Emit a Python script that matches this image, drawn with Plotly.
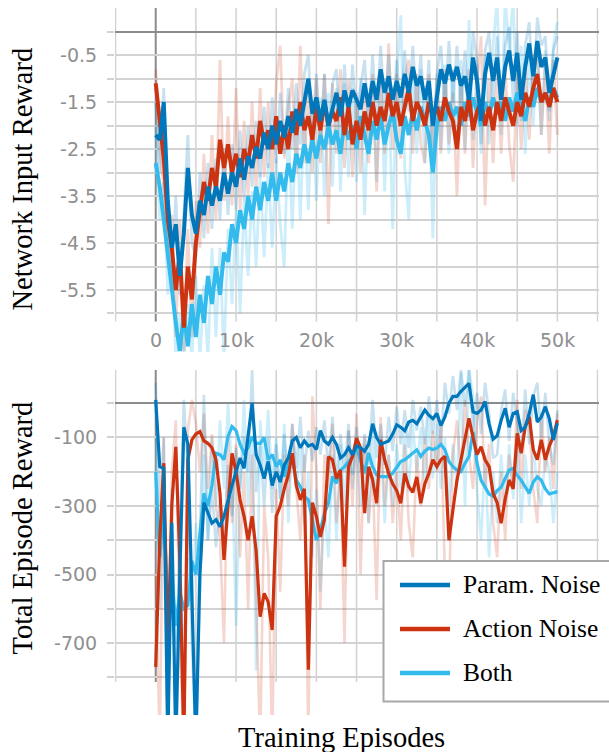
import plotly.graph_objects as go

# ---------------- data ----------------
episodes = list(range(0, 50001, 500))  # sampling positions (training episodes)

# Top panel: Network Input Reward (smoothed + raw)
top_param = [-2.2, -2.3, -1.5, -3.6, -4.6, -4.1, -5.2, -4.3, -2.9, -3.9,
             -4.3, -3.6, -3.9, -3.3, -3.7, -3.3, -3.6, -3.0, -3.45, -3.0,
             -3.3, -2.7, -3.15, -2.65, -2.9, -2.45, -2.7, -2.15, -2.5, -2.0,
             -2.4, -1.9, -2.25, -1.8, -2.15, -1.65, -2.0, -1.45, -1.0, -1.75,
             -1.4, -1.9, -1.45, -2.0, -1.6, -1.3, -1.8, -1.25, -1.6, -1.25,
             -1.45, -1.65, -1.1, -1.6, -1.05, -1.45, -0.8, -1.3, -0.95, -1.45,
             -1.05, -1.4, -0.9, -1.3, -0.75, -1.15, -0.95, -1.45, -1.05, -2.0,
             -1.4, -0.8, -1.1, -0.7, -1.05, -0.75, -1.15, -0.95, -1.45, -0.55,
             -1.05, -1.9, -0.9, -0.45, -1.05, -0.55, -1.45, -0.75, -0.4, -1.05,
             -0.45, -1.45, -0.75, -0.25, -0.95, -0.2, -0.75, -0.55, -1.3, -0.9,
             -0.55]
top_param_raw = [-1.5, -3.0, -1.2, -4.2, -5.2, -3.5, -5.6, -3.8, -2.2, -4.5,
                 -4.8, -3.0, -4.4, -2.8, -4.2, -2.7, -4.0, -2.5, -3.9, -2.4,
                 -3.8, -2.1, -3.6, -2.0, -3.3, -1.9, -3.1, -1.6, -2.9, -1.4,
                 -2.8, -1.3, -2.6, -1.2, -2.5, -1.1, -2.4, -0.9, -0.5, -2.2,
                 -0.9, -2.3, -0.9, -2.4, -1.1, -0.8, -2.2, -0.7, -2.0, -0.7,
                 -1.9, -1.2, -0.6, -2.0, -0.5, -1.9, -0.3, -1.7, -0.5, -1.9,
                 -0.6, -1.8, -0.4, -1.7, -0.3, -1.6, -0.5, -1.9, -0.6, -2.6,
                 -0.9, -0.3, -1.6, -0.2, -1.5, -0.3, -1.6, -0.4, -1.9, 0.0,
                 -0.6, -2.4, -0.4, 0.0, -1.5, -0.1, -1.9, -0.3, 0.1, -1.5,
                 0.0, -1.9, -0.3, 0.2, -1.4, 0.3, -0.3, -0.1, -1.7, -0.4,
                 -0.1]
top_action = [-1.1, -1.9, -2.7, -4.0, -4.6, -5.5, -4.7, -6.3, -5.0, -5.7,
              -4.5, -3.8, -3.2, -3.6, -2.9, -3.3, -2.3, -2.9, -2.4, -3.0,
              -2.6, -3.1, -2.5, -2.8, -2.2, -2.7, -1.9, -2.4, -2.1, -2.5,
              -1.8, -2.6, -2.0, -2.5, -1.7, -2.2, -1.5, -2.1, -1.8, -2.3,
              -1.6, -2.1, -1.5, -2.0, -1.7, -1.9, -1.4, -2.2, -1.6, -2.4,
              -1.9, -2.3, -1.7, -2.1, -1.5, -2.0, -1.6, -1.9, -1.3, -1.8,
              -1.5, -2.0, -1.6, -1.2, -1.9, -1.5, -1.7, -2.0, -1.5, -1.8,
              -1.6, -1.9, -1.4, -1.7, -1.9, -2.5, -1.6, -1.9, -1.4, -2.1,
              -1.7, -1.5, -2.0, -1.6, -2.1, -1.5, -1.9, -1.4, -1.7, -2.0,
              -1.5, -1.8, -1.3, -1.6, -1.2, -0.9, -1.5, -1.3, -1.6, -1.2,
              -1.5]
top_action_raw = [-0.8, -2.5, -3.3, -4.8, -3.9, -6.5, -4.0, -6.8, -4.2, -6.5,
                  -3.6, -4.6, -2.6, -4.3, -2.2, -4.0, -0.6, -3.6, -1.8, -3.7,
                  -1.2, -3.8, -1.9, -3.5, -1.5, -3.4, -1.2, -3.1, -1.5, -3.2,
                  -1.1, -0.3, -2.7, -1.6, -1.0, -3.0, -0.3, -2.8, -1.2, -3.0,
                  -1.0, -2.8, -0.9, -4.1, -1.1, -2.6, -0.8, -2.9, -1.0, -3.1,
                  -1.3, -3.0, -1.1, -2.8, -0.9, -3.4, -1.0, -2.6, -0.25, -2.5,
                  -0.9, -2.7, -1.0, -0.6, -2.6, -0.9, -2.4, -2.8, -0.9, -2.5,
                  -1.0, -2.6, -0.8, -2.4, -1.3, -3.5, -1.0, -2.6, -0.8, -2.9,
                  -1.1, -0.1, -3.7, -1.0, -2.8, -0.9, -2.6, -0.8, -2.4, -3.2,
                  -0.9, -2.5, -0.7, -2.3, -0.6, -0.3, -2.2, -0.7, -2.6, -0.6,
                  -2.2]
top_both = [-2.8, -3.3, -4.0, -4.8, -5.4, -6.2, -6.8, -6.0, -6.7, -5.8,
            -6.5, -5.6, -6.2, -5.2, -5.8, -5.0, -5.6, -4.7, -4.9, -4.1,
            -4.5, -3.8, -4.2, -3.5, -4.0, -3.3, -3.8, -3.2, -3.6, -3.0,
            -3.6, -3.0, -3.4, -2.8, -3.2, -2.6, -2.9, -2.4, -2.8, -2.3,
            -2.7, -2.2, -2.5, -2.0, -2.4, -2.1, -2.6, -1.9, -2.3, -2.0,
            -2.5, -1.8, -2.2, -2.6, -1.9, -2.3, -1.8, -2.4, -2.0, -1.7,
            -2.3, -2.6, -1.8, -2.2, -1.7, -2.1, -1.6, -1.9, -2.2, -3.0,
            -2.0, -1.6, -1.9, -1.5, -1.8, -1.6, -2.0, -1.5, -1.8, -1.4,
            -1.7, -2.0, -1.5, -1.8, -1.4, -1.7, -1.5, -1.9, -1.4, -1.7,
            -1.3, -1.6, -1.9, -1.4, -1.6, -1.2, -1.5, -1.3, -1.6, -1.2,
            -1.4]
top_both_raw = [-2.0, -4.0, -3.2, -5.6, -4.6, -7.0, -6.0, -7.0, -5.8, -7.0,
                -5.2, -7.0, -5.4, -7.0, -4.6, -6.5, -4.6, -7.0, -4.2, -5.8,
                -3.8, -6.0, -3.6, -5.2, -3.4, -5.0, -3.0, -4.8, -2.8, -4.6,
                -2.7, -4.1, -5.0, -2.0, -4.2, -1.8, -4.0, -1.6, -3.8, -1.5,
                -3.6, -1.4, -3.5, -1.3, -3.3, -1.2, -3.4, -1.1, -3.1, -1.2,
                -3.2, -1.0, -3.9, -1.4, -1.1, -3.2, -0.9, -3.4, -1.2, -4.2,
                -1.0, 0.35, -2.9, -4.0, -1.0, -2.6, -0.8, -2.8, -1.1, -4.4,
                -0.9, -2.5, -0.7, -2.6, -0.8, -2.4, -0.6, -2.5, 0.25, -2.3,
                -0.7, -2.6, -0.5, -2.4, -0.3, 0.7, -2.2, 0.7, -0.4, 0.7,
                -2.0, -0.3, -2.6, -0.5, -2.0, -0.2, -2.2, -0.4, -1.9, -0.3,
                0.2]

# Bottom panel: Total Episode Reward (smoothed + raw)
bot_param = [10, -185, -190, -1000, -350, -1000, -500, -70, -120, -600,
             -1000, -500, -290, -320, -350, -340, -360, -330, -280, -240,
             -200, -160, -190, -90, 0, -150, -180, -220, -170, -240,
             -200, -230, -180, -160, -110, -100, -130, -110, -125, -120,
             -135, -80, -110, -120, -100, -120, -160, -150, -130, -150,
             -125, -130, -140, -120, -60, -100, -120, -115, -110, -90,
             -63, -70, -80, -55, -50, -60, -40, -20, -35, -45,
             -30, -65, -40, 0, 20, 20, 35, 45, 58, -25,
             -30, -20, 5, -60, -105, -95, -50, -15, -70, -30,
             -25, -80, -70, -30, 25, -55, -40, -10, -45, -107,
             -58]
bot_param_raw = [60, -300, -100, -1000, -250, -1000, -400, 10, -200, -700,
                 -1000, -380, 25, -400, -250, -420, -280, -400, -180, -330,
                 -130, -250, -100, -200, 97, -260, -120, -300, -100, -320,
                 -120, -280, -90, -230, -60, -190, -40, -200, -80, -170,
                 -70, -150, -50, -200, -40, -230, -90, -200, -60, -210,
                 -70, -200, -90, -180, 10, -160, -60, -180, -40, -140,
                 -10, -120, -20, -130, 10, -80, -10, -120, 20, -90,
                 10, -120, 60, -30, 80, -20, 100, -10, 100, -80,
                 30, -90, 60, -30, -160, -150, -20, 40, -110, 30,
                 -60, -150, 40, -120, 20, 60, -100, 30, -120, -180,
                 -20]
bot_action = [-770, -400, -175, -730, -300, -127, -457, -1000, -165, -107,
              -90, -83, -110, -117, -130, -165, -263, -457, -300, -146,
              -200, -282, -330, -400, -330, -430, -623, -555, -580, -662,
              -330, -300, -250, -210, -146, -240, -282, -250, -778, -290,
              -330, -390, -340, -156, -165, -220, -195, -477, -185, -155,
              -102, -130, -321, -185, -224, -292, -107, -165, -205, -235,
              -255, -292, -205, -243, -260, -215, -292, -235, -205, -165,
              -185, -165, -155, -400, -311, -225, -165, -107, -44, -100,
              -150, -127, -165, -185, -263, -290, -350, -280, -224, -250,
              -88, -145, -68, -39, -136, -165, -107, -165, -125, -97,
              -49]
bot_action_raw = [-500, -1000, -100, -1000, -200, -50, -700, -1000, -80, 10,
                  -60, -200, -30, -250, -90, -300, -400, -700, -100, -350,
                  -120, -450, -200, -600, -150, -550, -1000, -300, -450, -1000,
                  -250, -550, -150, -300, -60, -250, -400, -150, -1000, 20,
                  -200, -600, -150, -250, -60, -350, -200, -700, -80, -300,
                  -30, -500, -100, -350, -200, -575, -40, -300, -150, -350,
                  -200, -400, -120, -350, -450, -150, -300, -100, -250, -80,
                  -200, -60, -500, -550, -150, -50, -200, 10, -150, -250,
                  -50, 20, -250, -120, -350, -450, -200, -400, -150, -250,
                  10, -250, -20, -50, -250, -350, -30, -200, -100, -250,
                  -30]
bot_both = [-200, -450, -300, -600, -500, -650, -550, -600, -590, -460,
            -500, -380, -263, -300, -240, -146, -150, -165, -97, -68,
            -80, -120, -146, -130, -97, -117, -117, -100, -165, -150,
            -185, -165, -214, -165, -165, -224, -243, -272, -282, -340,
            -400, -370, -321, -292, -214, -234, -195, -185, -170, -156,
            -130, -165, -204, -145, -185, -209, -214, -214, -214, -204,
            -185, -170, -165, -155, -146, -136, -155, -140, -131, -135,
            -131, -120, -136, -170, -185, -195, -200, -175, -156, -83,
            -175, -225, -245, -265, -272, -255, -245, -220, -195, -190,
            -210, -225, -245, -263, -230, -215, -225, -250, -265, -262,
            -258]
bot_both_raw = [-100, -600, -200, -800, -350, -700, -450, -750, -450, -600,
                -350, -550, -150, -400, -100, -300, -50, -250, 0, -200,
                -650, -250, 10, -300, -100, -780, -50, -200, -20, -250,
                -100, -280, -60, -350, -100, -250, -130, -350, -200, -450,
                -250, -550, -300, -450, -150, -400, -120, -300, -80, -250,
                -100, -300, -120, -350, -80, -300, -100, -350, -150, -300,
                -120, -250, -80, -260, -60, -200, -70, -250, -40, -220,
                -60, -250, -100, -300, -120, -250, 90, -300, 100, 20,
                -250, -400, -150, -450, -200, -350, -150, -300, -120, -280,
                -100, -350, -150, -300, -120, -250, -300, -150, -200, -350,
                -200]

series_names = ["Param. Noise", "Action Noise", "Both"]
x_tick_vals = [0, 10000, 20000, 30000, 40000, 50000]
x_tick_text = ["0", "10k", "20k", "30k", "40k", "50k"]
x_grid_vals = [-5000, 0, 5000, 10000, 15000, 20000, 25000, 30000, 35000, 40000, 45000, 50000, 55000]
top_y_grid = [0, -0.5, -1.0, -1.5, -2.0, -2.5, -3.0, -3.5, -4.0, -4.5, -5.0, -5.5, -6.0]
top_y_text = ["", "-0.5", "", "-1.5", "", "-2.5", "", "-3.5", "", "-4.5", "", "-5.5", ""]
bot_y_grid = [0, -100, -200, -300, -400, -500, -600, -700, -800]
bot_y_text = ["", "-100", "", "-300", "", "-500", "", "-700", ""]

# ---------------- style ----------------
W, H = 609, 752
COL = {"Param. Noise": "#0077BB", "Action Noise": "#CC3311", "Both": "#33BBEE"}
RAW = {"Param. Noise": "rgba(0,119,187,0.22)", "Action Noise": "rgba(204,51,17,0.2)",
       "Both": "rgba(51,187,238,0.25)"}
GRID = "#d2d2d2"
ZERO = "#8c8c8c"
TICKFONT = dict(family="DejaVu Sans", size=19, color="#8f8f8f")
SERIF = "Liberation Serif"

def fx(p):
    return p / W

def fy(p):
    return 1 - p / H

top_xrange = [-5070, 55120]
top_yrange = [-6.82, 0.504]
bot_yrange = [-910, 97]

fig = go.Figure()

panels = [
    ("x", "y", {"Param. Noise": (top_param, top_param_raw), "Action Noise": (top_action, top_action_raw),
                "Both": (top_both, top_both_raw)}, 4.0, 2.8),
    ("x2", "y2", {"Param. Noise": (bot_param, bot_param_raw), "Action Noise": (bot_action, bot_action_raw),
                  "Both": (bot_both, bot_both_raw)}, 3.2, 2.6),
]
draw_order = ["Both", "Action Noise", "Param. Noise"]
for xa, ya, data, lw, rw in panels:
    for nm in draw_order:
        fig.add_trace(go.Scatter(x=episodes, y=data[nm][1], xaxis=xa, yaxis=ya, mode="lines",
                                 line=dict(color=RAW[nm], width=rw), showlegend=False,
                                 hoverinfo="skip", name=nm + " (raw)"))
    for nm in draw_order:
        fig.add_trace(go.Scatter(x=episodes, y=data[nm][0], xaxis=xa, yaxis=ya, mode="lines",
                                 line=dict(color=COL[nm], width=lw), showlegend=False,
                                 hoverinfo="skip", name=nm))

common_x = dict(range=top_xrange, showgrid=False, zeroline=False, showticklabels=False,
                ticks="", showline=False, fixedrange=True)
fig.update_layout(
    width=W, height=H, margin=dict(l=0, r=0, t=0, b=0),
    paper_bgcolor="white", plot_bgcolor="white", showlegend=False, hovermode=False,
    xaxis=dict(domain=[fx(115), fx(598.5)], anchor="y", **common_x),
    xaxis2=dict(domain=[fx(115), fx(598.5)], anchor="y2", **common_x),
    yaxis=dict(domain=[fy(352), fy(8)], range=top_yrange, anchor="x",
               tickvals=top_y_grid, ticktext=top_y_text, showgrid=True, gridcolor=GRID,
               gridwidth=1.5, zeroline=True, zerolinecolor=ZERO, zerolinewidth=2,
               ticks="outside", ticklen=7, tickcolor=GRID, tickwidth=1.5,
               tickfont=TICKFONT, ticklabelstandoff=6, showline=False),
    yaxis2=dict(domain=[fy(715), fy(370)], range=bot_yrange, anchor="x2",
                tickvals=bot_y_grid, ticktext=bot_y_text, showgrid=True, gridcolor=GRID,
                gridwidth=1.5, zeroline=True, zerolinecolor=ZERO, zerolinewidth=2,
                ticks="outside", ticklen=7, tickcolor=GRID, tickwidth=1.5,
                tickfont=TICKFONT, ticklabelstandoff=6, showline=False),
)

# vertical grid lines (limited height, as in the reference)
shapes = []
for yref, ylo, ytop in [("y", -6.17, top_yrange[1]), ("y2", -814, bot_yrange[1])]:
    xref = "x" if yref == "y" else "x2"
    for v in x_grid_vals:
        shapes.append(dict(type="line", xref=xref, yref=yref, x0=v, x1=v, y0=ylo, y1=ytop,
                           line=dict(color=ZERO if v == 0 else GRID, width=2 if v == 0 else 1.5),
                           layer="below"))

# legend box (custom, TensorBoard-style export)
leg_rows = [585, 629, 673]
shapes.append(dict(type="rect", xref="paper", yref="paper", x0=fx(383.5), x1=1.02,
                   y0=fy(701.5), y1=fy(561), line=dict(color="#a8a8a8", width=2),
                   fillcolor="white", layer="above"))
annotations = []
for nm, ry in zip(series_names, leg_rows):
    shapes.append(dict(type="line", xref="paper", yref="paper", x0=fx(400), x1=fx(450),
                       y0=fy(ry), y1=fy(ry), line=dict(color=COL[nm], width=4.5), layer="above"))
    annotations.append(dict(xref="paper", yref="paper", x=fx(461), y=fy(ry - 1), text=nm,
                            showarrow=False, xanchor="left", yanchor="middle",
                            font=dict(family=SERIF, size=25.5, color="black")))

for v, t in zip(x_tick_vals, x_tick_text):
    annotations.append(dict(xref="x", yref="y", x=v, y=-6.56, text=t, showarrow=False,
                            xanchor="center", yanchor="middle", font=TICKFONT))

annotations.append(dict(xref="paper", yref="paper", x=fx(22), y=fy(179.5), text="Network Input Reward",
                        textangle=-90, showarrow=False, xanchor="center", yanchor="middle",
                        font=dict(family=SERIF, size=28.5, color="black")))
annotations.append(dict(xref="paper", yref="paper", x=fx(22), y=fy(528.5), text="Total Episode Reward",
                        textangle=-90, showarrow=False, xanchor="center", yanchor="middle",
                        font=dict(family=SERIF, size=28.5, color="black")))
annotations.append(dict(xref="paper", yref="paper", x=fx(341), y=fy(737), text="Training Episodes",
                        showarrow=False, xanchor="center", yanchor="middle",
                        font=dict(family=SERIF, size=28.5, color="black")))

fig.update_layout(shapes=shapes, annotations=annotations)
fig.write_html("out.html", config={"displayModeBar": False},
               post_script="document.body.style.margin='0';document.body.style.padding='0';"
                           "document.documentElement.style.overflow='hidden';")
